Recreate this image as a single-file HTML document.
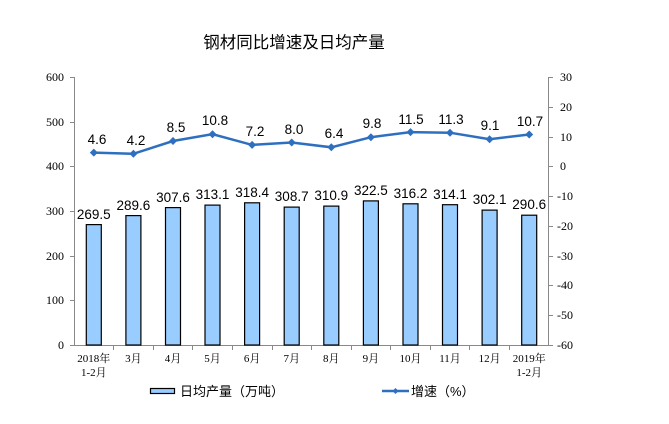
<!DOCTYPE html>
<html><head><meta charset="utf-8"><style>
html,body{margin:0;padding:0;background:#fff;}
svg{display:block}
</style></head><body>
<svg width="669" height="424" xmlns="http://www.w3.org/2000/svg">
<rect width="669" height="424" fill="#fff"/>
<text x="294" y="48" text-anchor="middle" font-family="Liberation Sans, Noto Sans CJK SC, sans-serif" font-size="16.5" fill="#000">钢材同比增速及日均产量</text>
<g stroke="#898989" stroke-width="1" fill="none">
<line x1="74.5" y1="77" x2="74.5" y2="345"/>
<line x1="548.5" y1="77" x2="548.5" y2="345"/>
<line x1="74" y1="345.5" x2="549" y2="345.5"/>
<path d="M70 77.5h4.5M70 122.5h4.5M70 166.5h4.5M70 211.5h4.5M70 256.5h4.5M70 300.5h4.5M70 345.5h4.5"/>
<path d="M548.5 77.5h4.5M548.5 107.5h4.5M548.5 137.5h4.5M548.5 166.5h4.5M548.5 196.5h4.5M548.5 226.5h4.5M548.5 256.5h4.5M548.5 285.5h4.5M548.5 315.5h4.5M548.5 345.5h4.5"/>
<path d="M113.5 345v5M153.5 345v5M192.5 345v5M232.5 345v5M272.5 345v5M311.5 345v5M351.5 345v5M390.5 345v5M430.5 345v5M469.5 345v5M509.5 345v5"/>
</g>
<g font-family="Liberation Serif, serif" font-size="12" fill="#000" text-anchor="end">
<text x="64" y="81">600</text><text x="64" y="126">500</text><text x="64" y="170">400</text>
<text x="64" y="215">300</text><text x="64" y="260">200</text><text x="64" y="304">100</text><text x="64" y="349">0</text>
</g>
<g font-family="Liberation Serif, serif" font-size="12" fill="#000" text-anchor="start">
<text x="560" y="81">30</text><text x="560" y="111">20</text><text x="560" y="141">10</text><text x="560" y="170">0</text>
<text x="557" y="200">-10</text><text x="557" y="230">-20</text><text x="557" y="260">-30</text><text x="557" y="289">-40</text>
<text x="557" y="319">-50</text><text x="557" y="349">-60</text>
</g>
<g fill="#99ccff" stroke="#000" stroke-width="1.2">
<rect x="86.3" y="224.6" width="15" height="120.4"/>
<rect x="125.9" y="215.6" width="15" height="129.4"/>
<rect x="165.5" y="207.6" width="15" height="137.4"/>
<rect x="205" y="205.1" width="15" height="139.9"/>
<rect x="244.6" y="202.8" width="15" height="142.2"/>
<rect x="284.2" y="207.1" width="15" height="137.9"/>
<rect x="323.8" y="206.1" width="15" height="138.9"/>
<rect x="363.4" y="200.9" width="15" height="144.1"/>
<rect x="403" y="203.8" width="15" height="141.2"/>
<rect x="442.5" y="204.7" width="15" height="140.3"/>
<rect x="482.1" y="210.1" width="15" height="134.9"/>
<rect x="521.7" y="215.2" width="15" height="129.8"/>
</g>
<g font-family="Liberation Sans, sans-serif" font-size="13.5" fill="#000" text-anchor="middle">
<text x="93.8" y="219">269.5</text><text x="133.4" y="210">289.6</text><text x="173" y="202">307.6</text>
<text x="212.5" y="199">313.1</text><text x="252.1" y="197">318.4</text><text x="291.7" y="201">308.7</text>
<text x="331.3" y="200">310.9</text><text x="370.9" y="195">322.5</text><text x="410.5" y="198">316.2</text>
<text x="450" y="199">314.1</text><text x="489.6" y="204">302.1</text><text x="529.2" y="209">290.6</text>
</g>
<polyline fill="none" stroke="#2e6fbf" stroke-width="2.5" points="93.8,152.6 133.4,153.8 173,141 212.5,134.2 252.1,144.9 291.7,142.5 331.3,147.3 370.9,137.2 410.5,132.1 450,132.7 489.6,139.2 529.2,134.5"/>
<g fill="#2e6fbf">
<path d="M93.8 148.6l4 4-4 4-4-4z"/><path d="M133.4 149.8l4 4-4 4-4-4z"/><path d="M173 137l4 4-4 4-4-4z"/>
<path d="M212.5 130.2l4 4-4 4-4-4z"/><path d="M252.1 140.9l4 4-4 4-4-4z"/><path d="M291.7 138.5l4 4-4 4-4-4z"/>
<path d="M331.3 143.3l4 4-4 4-4-4z"/><path d="M370.9 133.2l4 4-4 4-4-4z"/><path d="M410.5 128.1l4 4-4 4-4-4z"/>
<path d="M450 128.7l4 4-4 4-4-4z"/><path d="M489.6 135.2l4 4-4 4-4-4z"/><path d="M529.2 130.5l4 4-4 4-4-4z"/>
</g>
<g font-family="Liberation Sans, sans-serif" font-size="13.5" fill="#000" text-anchor="middle">
<text x="97" y="144">4.6</text><text x="136" y="145">4.2</text><text x="176" y="132">8.5</text>
<text x="215" y="125">10.8</text><text x="255" y="136">7.2</text><text x="294" y="134">8.0</text>
<text x="334" y="138">6.4</text><text x="372" y="128">9.8</text><text x="411" y="124">11.5</text>
<text x="451" y="124">11.3</text><text x="490" y="130">9.1</text><text x="530" y="126">10.7</text>
</g>
<g font-family="Liberation Serif, Noto Serif CJK SC, serif" font-size="11" fill="#000" text-anchor="middle">
<text x="93.8" y="362">2018年</text><text x="93.8" y="376">1-2月</text>
<text x="133.4" y="362">3月</text><text x="173" y="362">4月</text><text x="212.5" y="362">5月</text>
<text x="252.1" y="362">6月</text><text x="291.7" y="362">7月</text><text x="331.3" y="362">8月</text>
<text x="370.9" y="362">9月</text><text x="410.5" y="362">10月</text><text x="450" y="362">11月</text>
<text x="489.6" y="362">12月</text><text x="529.2" y="362">2019年</text><text x="529.2" y="376">1-2月</text>
</g>
<rect x="150.5" y="388.5" width="24" height="5" fill="#99ccff" stroke="#000" stroke-width="1.2"/>
<text x="180" y="396" font-family="Liberation Sans, Noto Sans CJK SC, sans-serif" font-size="13" fill="#000">日均产量（万吨）</text>
<line x1="382" y1="391" x2="409" y2="391" stroke="#2e6fbf" stroke-width="2.5"/>
<path d="M395.5 388l3 3-3 3-3-3z" fill="#2e6fbf"/>
<text x="411" y="396" font-family="Liberation Sans, Noto Sans CJK SC, sans-serif" font-size="13" fill="#000">增速（%）</text>
</svg>
</body></html>
